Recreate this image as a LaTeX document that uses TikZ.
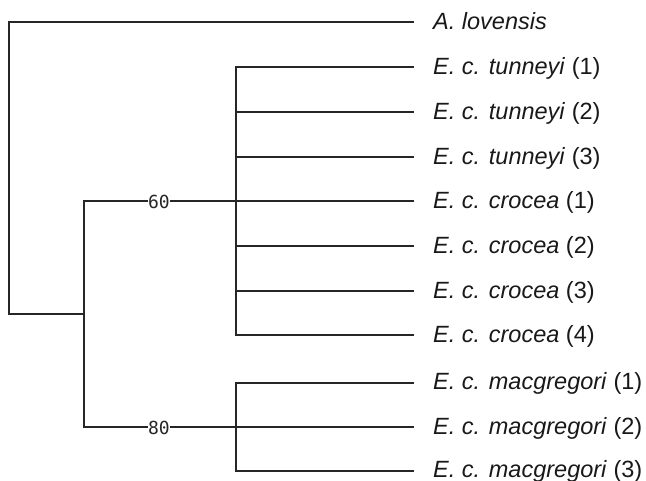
\documentclass[tikz,border=0pt]{standalone}
\usepackage{fontspec}
\setmainfont{Liberation Sans}
\newfontfamily\supportfont{DejaVu Sans Mono}
\begin{document}
\begin{tikzpicture}[x=1pt,y=-1pt,
  branch/.style={draw=black!85, line width=1.7pt, line cap=rect},
  taxon/.style={anchor=base west, inner sep=0pt, text=black!90,
    font=\fontsize{23.5}{27}\selectfont},
  support/.style={fill=white, inner sep=0.5pt, text=black!85,
    font=\supportfont\fontsize{18}{20}\selectfont}]
\useasboundingbox (0,0) rectangle (646,481);
% leaf positions
\def\tipx{413}
\def\labx{433}
\foreach \n/\y in {a/22, t1/67, t2/112, t3/157, c1/201, c2/246, c3/291, c4/335, m1/383, m2/427, m3/471}
  \coordinate (\n) at (\tipx,\y);
% internal nodes
\coordinate (root) at (9,314);
\coordinate (ingroup) at (84,314);
\coordinate (up) at (84,201);
\coordinate (low) at (84,427);
\coordinate (upc) at (236,201);
\coordinate (lowc) at (236,427);
% taxon labels
\node[taxon] (la) at (\labx,30) {\textit{A. lovensis}};
\node[taxon] (lt1) at (\labx,75) {\textit{E. c. tunneyi} (1)};
\node[taxon] (lt2) at (\labx,120) {\textit{E. c. tunneyi} (2)};
\node[taxon] (lt3) at (\labx,165) {\textit{E. c. tunneyi} (3)};
\node[taxon] (lc1) at (\labx,209) {\textit{E. c. crocea} (1)};
\node[taxon] (lc2) at (\labx,254) {\textit{E. c. crocea} (2)};
\node[taxon] (lc3) at (\labx,299) {\textit{E. c. crocea} (3)};
\node[taxon] (lc4) at (\labx,343) {\textit{E. c. crocea} (4)};
\node[taxon] (lm1) at (\labx,390) {\textit{E. c. macgregori} (1)};
\node[taxon] (lm2) at (\labx,434) {\textit{E. c. macgregori} (2)};
\node[taxon] (lm3) at (\labx,477) {\textit{E. c. macgregori} (3)};
% branches
\draw[branch] (a) -| (root) -- (ingroup);
\draw[branch] (up) -- (low);
\draw[branch] (up) -- (c1);
\draw[branch] (low) -- (m2);
\draw[branch] (t1) -| (upc) |- (c4);
\foreach \n in {t2,t3,c2,c3} \draw[branch] (\n) -- (upc |- \n);
\draw[branch] (m1) -| (lowc) |- (m3);
% support values
\node[support] (s60) at (159,202) {60};
\node[support] (s80) at (159,428) {80};
\end{tikzpicture}
\end{document}
